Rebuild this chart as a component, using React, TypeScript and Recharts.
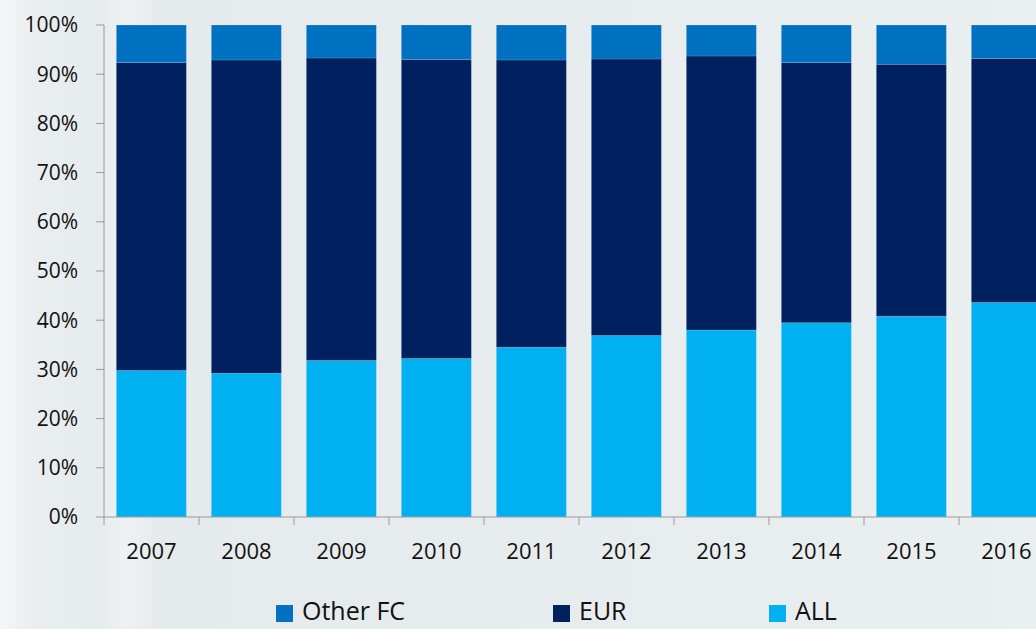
import React from "react";
import { BarChart, Bar, XAxis, YAxis } from "recharts";

const years = ["2007", "2008", "2009", "2010", "2011", "2012", "2013", "2014", "2015", "2016"];
const allShare = [29.8, 29.2, 31.8, 32.2, 34.5, 36.9, 38.0, 39.5, 40.8, 43.6];
const eurShare = [62.6, 63.7, 61.5, 60.8, 58.4, 56.2, 55.7, 52.9, 51.2, 49.6];
const otherShare = [7.6, 7.1, 6.7, 7.0, 7.1, 6.9, 6.3, 7.6, 8.0, 6.8];
const yTicks = [0, 10, 20, 30, 40, 50, 60, 70, 80, 90, 100];

const series = [
  { key: "other", name: "Other FC", color: "#0070c0" },
  { key: "eur", name: "EUR", color: "#002060" },
  { key: "all", name: "ALL", color: "#00b0f0" },
];

const data = years.map((y, i) => ({
  year: y,
  all: allShare[i],
  eur: eurShare[i],
  other: otherShare[i],
}));

const FONT = "'Open Sans', 'DejaVu Sans', sans-serif";

const XTick = (props: any) => {
  const { x, y, payload } = props;
  const off = payload && typeof payload.offset === "number" ? payload.offset : 47.5;
  return (
    <g>
      <line x1={x - off} y1={y - 8} x2={x - off} y2={y} stroke="#9a9a9a" strokeWidth={1} />
      <text x={x} y={y + 34} textAnchor="middle" fontSize={22} fill="#111" fontFamily={FONT}>
        {payload.value}
      </text>
    </g>
  );
};

const widths = [277, 216, 120];

export default function App() {
  return (
    <div
      style={{
        position: "fixed",
        left: 0,
        top: 0,
        width: 1036,
        height: 629,
        overflow: "hidden",
        background:
          "linear-gradient(90deg, #f4f6f7 0px, #e8edef 40px, #e6ebed 100px, #eef2f3 125px, #e5eaec 160px, #e7ecee 600px, #eaeff0 1036px)",
      }}
    >
      <BarChart
        width={1100}
        height={629}
        data={data}
        margin={{ top: 25, right: 46, left: 24, bottom: 72 }}
        barCategoryGap="13%"
      >
        <XAxis
          dataKey="year"
          axisLine={{ stroke: "#9a9a9a" }}
          tickLine={false}
          tick={<XTick />}
          height={40}
          interval={0}
        />
        <YAxis
          domain={[0, 100]}
          ticks={yTicks}
          tickFormatter={(v: number) => `${v}%`}
          axisLine={{ stroke: "#9a9a9a" }}
          tickLine={{ stroke: "#9a9a9a" }}
          tickSize={8}
          tickMargin={18}
          width={80}
          tick={{ fontSize: 21, fill: "#111", fontFamily: FONT }}
          interval={0}
        />
        <Bar dataKey="all" name="ALL" stackId="a" fill="#00b0f0" stroke="rgba(255,255,255,0.15)" strokeWidth={1} isAnimationActive={false} />
        <Bar dataKey="eur" name="EUR" stackId="a" fill="#002060" stroke="rgba(255,255,255,0.15)" strokeWidth={1} isAnimationActive={false} />
        <Bar dataKey="other" name="Other FC" stackId="a" fill="#0070c0" stroke="rgba(255,255,255,0.15)" strokeWidth={1} isAnimationActive={false} />
      </BarChart>
      <div
        style={{
          position: "absolute",
          left: 276,
          top: 598,
          display: "flex",
          alignItems: "center",
          fontFamily: FONT,
        }}
      >
        {series.map((s, i) => (
          <div key={s.key} style={{ display: "flex", alignItems: "center", width: widths[i], height: 24 }}>
            <span style={{ display: "inline-block", width: 17, height: 17, background: s.color, marginRight: 9, marginTop: 6 }} />
            <span style={{ fontSize: 25, color: "#111", lineHeight: "24px" }}>{s.name}</span>
          </div>
        ))}
      </div>
    </div>
  );
}
